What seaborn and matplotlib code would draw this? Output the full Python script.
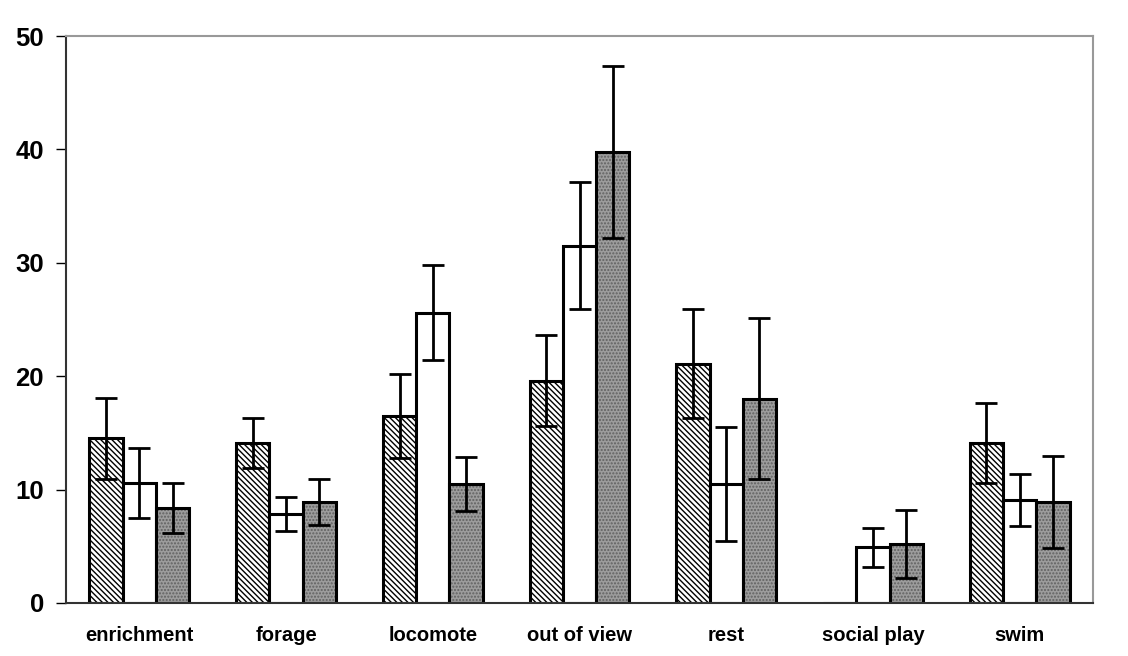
import numpy as np
import pandas as pd
import matplotlib
matplotlib.use("Agg")
import matplotlib.pyplot as plt
import seaborn as sns

# Data
behaviours = ["enrichment", "forage", "locomote", "out of view", "rest", "social play", "swim"]
groups = ["A", "B", "C"]
means_a = [14.5, 14.1, 16.5, 19.6, 21.1, 0.0, 14.1]
means_b = [10.6, 7.8, 25.6, 31.5, 10.5, 4.9, 9.1]
means_c = [8.4, 8.9, 10.5, 39.8, 18.0, 5.2, 8.9]
err_a = [3.6, 2.2, 3.7, 4.0, 4.8, 0.0, 3.5]
err_b = [3.1, 1.5, 4.2, 5.6, 5.0, 1.7, 2.3]
err_c = [2.2, 2.0, 2.4, 7.6, 7.1, 3.0, 4.1]

df = pd.DataFrame({
    "behaviour": behaviours * 3,
    "group": [g for g in groups for _ in behaviours],
    "mean": means_a + means_b + means_c,
    "err": err_a + err_b + err_c,
})

sns.set_style("white")
plt.rcParams["font.family"] = ["Liberation Sans", "DejaVu Sans"]
plt.rcParams["hatch.linewidth"] = 1.0

fig = plt.figure(figsize=(11.28, 6.56), dpi=100)
ax = fig.add_axes([0.0585, 0.081, 0.9105, 0.864])

sns.barplot(data=df, x="behaviour", y="mean", hue="group", order=behaviours,
            hue_order=groups, width=0.68, errorbar=None, legend=False, ax=ax,
            palette=["white", "white", "#9c9c9c"], saturation=1)

hatches = ["\\\\\\\\\\\\", "", "....."]
for cont, h, g in zip(ax.containers, hatches, groups):
    errs = df.loc[df["group"] == g, "err"].to_numpy()
    xs, ys = [], []
    for bar in cont:
        bar.set_edgecolor("black")
        bar.set_linewidth(2.2)
        bar.set_hatch(h)
        xs.append(bar.get_x() + bar.get_width() / 2)
        ys.append(bar.get_height())
    xs, ys = np.array(xs), np.array(ys)
    mask = errs > 0
    ax.errorbar(xs[mask], ys[mask], yerr=errs[mask], fmt="none", ecolor="black",
                elinewidth=2, capsize=8, capthick=2, zorder=5)

# hatch colours: dark dots on the gray bars
for bar in ax.containers[2]:
    bar._hatch_color = matplotlib.colors.to_rgba("#606060")

ax.set_ylim(0, 50)
ax.set_xlim(-0.5, len(behaviours) - 0.5)
ax.set_yticks([0, 10, 20, 30, 40, 50])
ax.set_xticks(range(len(behaviours)))
ax.set_xticklabels(behaviours, fontsize=14.5, fontweight="bold", color="black")
ax.set_yticklabels(["0", "10", "20", "30", "40", "50"], fontsize=18.5, fontweight="bold", color="black")
ax.set_xticks(np.arange(-0.5, len(behaviours), 1.0), minor=True)
ax.tick_params(axis="x", which="major", length=0, pad=17)
ax.tick_params(axis="x", which="minor", length=6, width=1, color="#444444", direction="out")
ax.tick_params(axis="y", length=7, width=1, color="black", direction="out", left=True, pad=9)
ax.set_xlabel("")
ax.set_ylabel("")

for side in ["left", "bottom"]:
    ax.spines[side].set_color("#333333")
    ax.spines[side].set_linewidth(1.5)
for side in ["top", "right"]:
    ax.spines[side].set_visible(True)
    ax.spines[side].set_color("#999999")
    ax.spines[side].set_linewidth(1.5)

fig.savefig("out.png", dpi=100)
